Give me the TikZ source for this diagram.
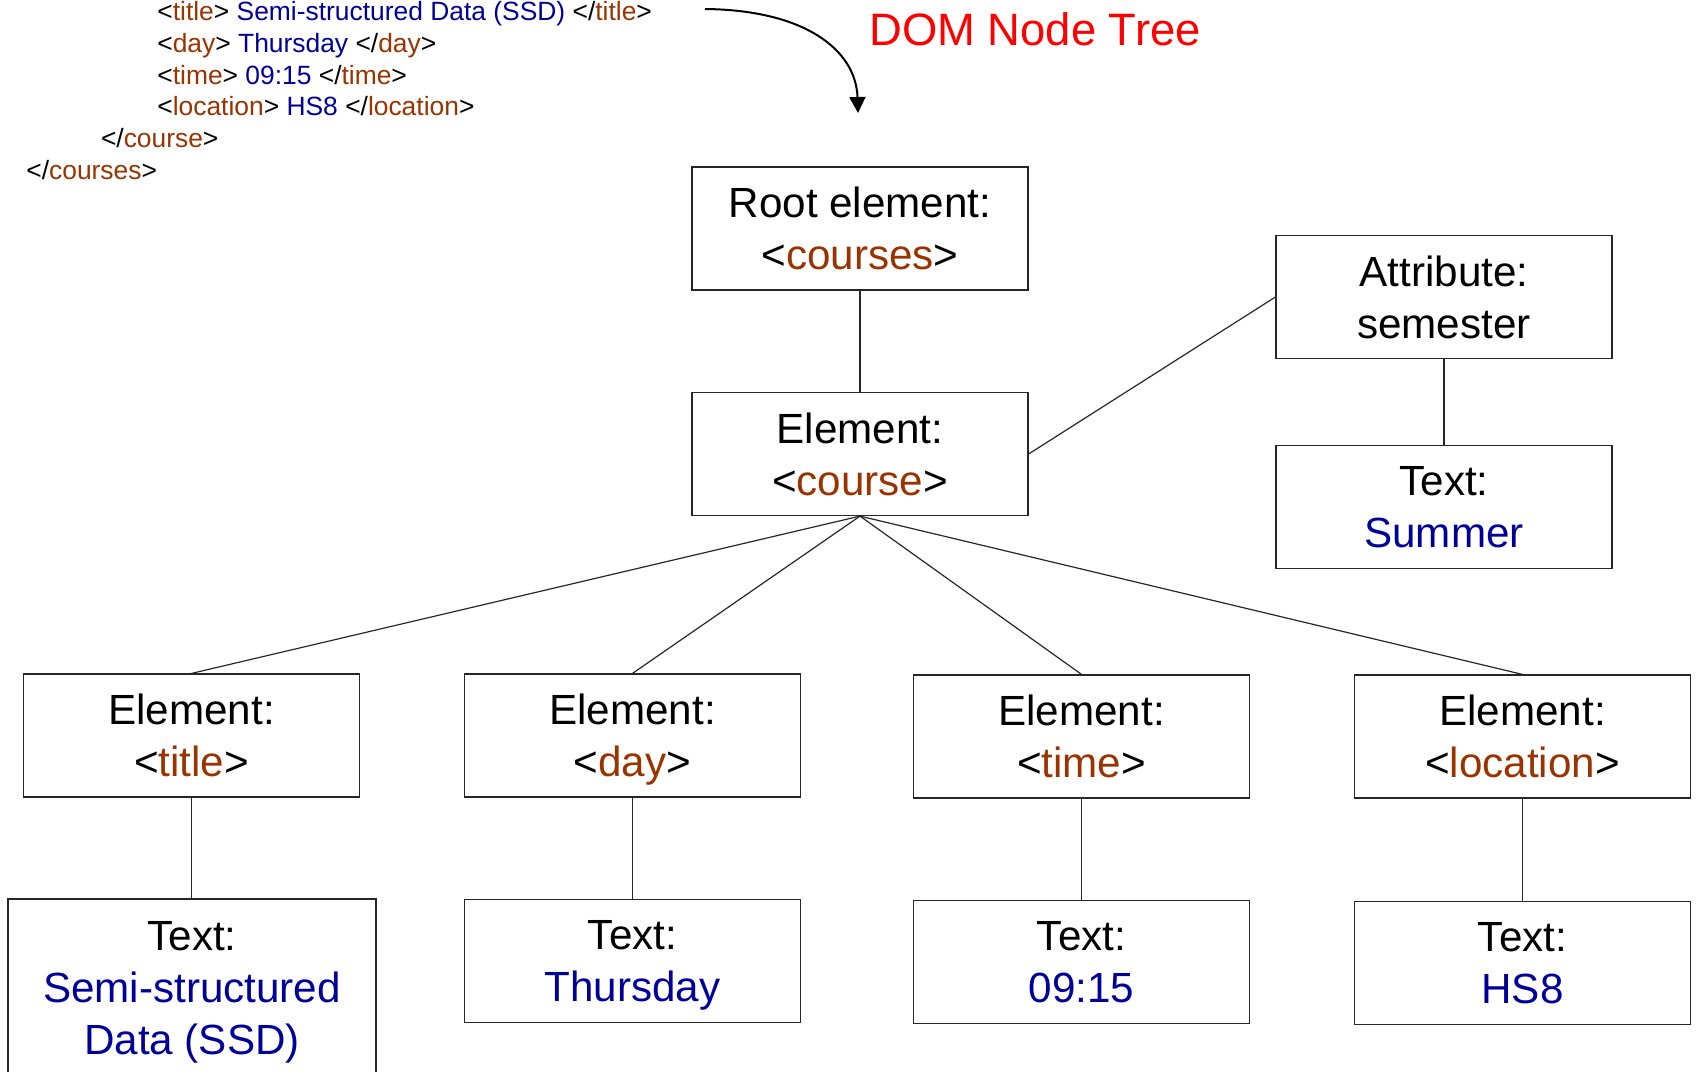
\documentclass[tikz,border=0pt]{standalone}
\usepackage{fontspec}
\setmainfont{Liberation Sans}
\usetikzlibrary{arrows.meta}
\definecolor{tagbrown}{HTML}{993300}
\definecolor{valblue}{HTML}{000099}
\newcommand\bfnt{\fontsize{21.1}{26}\selectfont}
\newcommand\cfnt{\fontsize{13.2}{16}\selectfont}
\newcommand\tg[1]{{\color{tagbrown}#1}}
\newcommand\vl[1]{{\color{valblue}#1}}
\begin{document}
\begin{tikzpicture}[x=0.5pt,y=-0.5pt,
  treebox/.style={draw=black!85, line width=0.6pt, minimum width=168pt, minimum height=61.5pt, inner sep=0pt, align=center, font=\bfnt, text depth=-1.5pt},
  codeline/.style={anchor=base west, inner sep=0pt, font=\cfnt},
  edge/.style={draw=black!85, line width=0.6pt}]
\useasboundingbox (0,0) rectangle (1696,1071);

% code excerpt
\node[codeline] (c1) at (157,20.5) {<\tg{title}> \vl{Semi-structured Data (SSD)} </\tg{title}>};
\node[codeline] (c2) at (157,52.3) {<\tg{day}> \vl{Thursday} </\tg{day}>};
\node[codeline] (c3) at (157,84.1) {<\tg{time}> \vl{09:15} </\tg{time}>};
\node[codeline] (c4) at (157,115.9) {<\tg{location}> \vl{HS8} </\tg{location}>};
\node[codeline] (c5) at (100.6,147.7) {</\tg{course}>};
\node[codeline] (c6) at (26,179.5) {</\tg{courses}>};

% heading
\node[inner sep=0pt, font=\fontsize{22.7}{27}\selectfont, text=red] (head) at (1035,29) {DOM Node Tree};

% arrow
\coordinate (arrS) at (705,9);
\coordinate (arrE) at (858,113);
\draw[line width=1pt, -{Triangle[length=8pt,width=8pt]}] (arrS) .. controls (805,10) and (856,50) .. (arrE);

% boxes
\node[treebox] (root) at (860,228.5) {Root element:\\<\tg{courses}>};
\node[treebox] (course) at (860,454) {Element:\\<\tg{course}>};
\node[treebox] (attr) at (1444,297) {Attribute:\\semester};
\node[treebox] (summer) at (1444,507) {Text:\\\vl{Summer}};

\node[treebox] (title) at (191.5,735.5) {Element:\\<\tg{title}>};
\node[treebox] (day) at (632.5,735.5) {Element:\\<\tg{day}>};
\node[treebox] (time) at (1081.5,736.5) {Element:\\<\tg{time}>};
\node[treebox] (loc) at (1522.5,736.5) {Element:\\<\tg{location}>};

\node[treebox, minimum width=184pt, minimum height=89pt] (ssd) at (192,988) {Text:\\\vl{Semi-structured}\\\vl{Data (SSD)}};
\node[treebox] (thu) at (632.5,961) {Text:\\\vl{Thursday}};
\node[treebox] (t915) at (1081.5,962) {Text:\\\vl{09:15}};
\node[treebox] (hs8) at (1522.5,963) {Text:\\\vl{HS8}};

% connectors
\draw[edge] (root.south) -- (course.north);
\draw[edge] (course.east) -- (attr.west);
\draw[edge] (attr.south) -- (summer.north);
\draw[edge] (course.south) -- (title.north);
\draw[edge] (course.south) -- (day.north);
\draw[edge] (course.south) -- (time.north);
\draw[edge] (course.south) -- (loc.north);
\draw[edge] (title.south) -- (title.south |- ssd.north);
\draw[edge] (day.south) -- (thu.north);
\draw[edge] (time.south) -- (t915.north);
\draw[edge] (loc.south) -- (hs8.north);
\end{tikzpicture}
\end{document}
